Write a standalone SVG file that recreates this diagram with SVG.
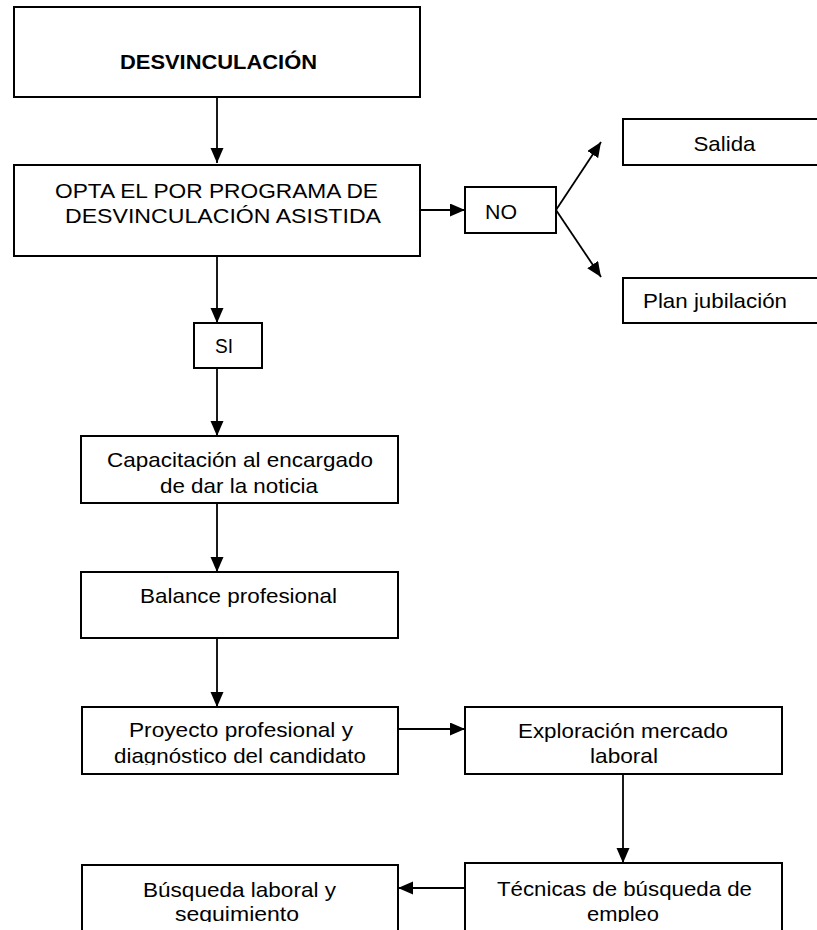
<svg xmlns="http://www.w3.org/2000/svg" width="817" height="930" viewBox="0 0 817 930">
<style>
.box{fill:#fff;stroke:#000;stroke-width:2}
.t{font-family:"Liberation Sans",Arial,sans-serif;font-size:21px;fill:#000;text-anchor:middle}
.b{font-weight:bold;font-size:20px}
.c{stroke:#000;stroke-width:1.8;fill:none;marker-end:url(#ah)}
</style>
<defs>
<marker id="ah" markerUnits="userSpaceOnUse" markerWidth="16" markerHeight="14" refX="15" refY="6.5" orient="auto">
<path d="M0,0 L15,6.5 L0,13 z" fill="#000"/>
</marker>
<clipPath id="clipTop"><rect x="0" y="0" width="817" height="765"/></clipPath>
<clipPath id="clipBot"><rect x="0" y="0" width="817" height="922"/></clipPath>
</defs>
<g id="connectors">
<line class="c" x1="217" y1="97" x2="217" y2="163"/>
<line class="c" x1="420" y1="210" x2="465" y2="210"/>
<line class="c" x1="556" y1="210" x2="601" y2="142"/>
<line class="c" x1="556" y1="210" x2="601" y2="277"/>
<line class="c" x1="217" y1="256" x2="217" y2="323"/>
<line class="c" x1="217" y1="368" x2="217" y2="436"/>
<line class="c" x1="217" y1="503" x2="217" y2="572"/>
<line class="c" x1="217" y1="638" x2="217" y2="707"/>
<line class="c" x1="398" y1="729" x2="465" y2="729"/>
<line class="c" x1="623" y1="774" x2="623" y2="863"/>
<line class="c" x1="465" y1="888" x2="398" y2="888"/>
</g>
<g id="desvinculacion">
<rect class="box" x="14" y="7" width="406" height="90"/>
<text class="t b" x="218.5" y="69" textLength="197" lengthAdjust="spacingAndGlyphs">DESVINCULACIÓN</text>
</g>
<g id="opta">
<rect class="box" x="14" y="165" width="406" height="91"/>
<text class="t" x="216.5" y="198" textLength="323" lengthAdjust="spacingAndGlyphs">OPTA EL POR PROGRAMA DE</text>
<text class="t" x="223" y="223" textLength="316" lengthAdjust="spacingAndGlyphs">DESVINCULACIÓN ASISTIDA</text>
</g>
<g id="no">
<rect class="box" x="465" y="187" width="91" height="46"/>
<text class="t" x="501" y="219" textLength="32" lengthAdjust="spacingAndGlyphs">NO</text>
</g>
<g id="salida">
<rect class="box" x="623" y="119" width="200" height="46"/>
<text class="t" x="724.5" y="151" textLength="62" lengthAdjust="spacingAndGlyphs">Salida</text>
</g>
<g id="plan">
<rect class="box" x="623" y="278" width="200" height="45"/>
<text class="t" x="715" y="308" textLength="144" lengthAdjust="spacingAndGlyphs">Plan jubilación</text>
</g>
<g id="si">
<rect class="box" x="194" y="323" width="68" height="45"/>
<text class="t" x="224" y="353" textLength="18" lengthAdjust="spacingAndGlyphs">SI</text>
</g>
<g id="capacitacion">
<rect class="box" x="81" y="436" width="317" height="67"/>
<text class="t" x="240" y="467" textLength="266" lengthAdjust="spacingAndGlyphs">Capacitación al encargado</text>
<text class="t" x="239" y="493" textLength="158" lengthAdjust="spacingAndGlyphs">de dar la noticia</text>
</g>
<g id="balance">
<rect class="box" x="81" y="572" width="317" height="66"/>
<text class="t" x="238.5" y="603" textLength="197" lengthAdjust="spacingAndGlyphs">Balance profesional</text>
</g>
<g id="proyecto">
<rect class="box" x="82" y="707" width="316" height="67"/>
<g clip-path="url(#clipTop)">
<text class="t" x="241" y="737" textLength="224" lengthAdjust="spacingAndGlyphs">Proyecto profesional y</text>
<text class="t" x="240" y="763" textLength="252" lengthAdjust="spacingAndGlyphs">diagnóstico del candidato</text>
</g>
</g>
<g id="exploracion">
<rect class="box" x="465" y="707" width="317" height="67"/>
<g clip-path="url(#clipTop)">
<text class="t" x="623" y="738" textLength="210" lengthAdjust="spacingAndGlyphs">Exploración mercado</text>
<text class="t" x="624" y="763" textLength="68" lengthAdjust="spacingAndGlyphs">laboral</text>
</g>
</g>
<g id="tecnicas">
<rect class="box" x="465" y="863" width="317" height="80"/>
<g clip-path="url(#clipBot)">
<text class="t" x="624.5" y="896" textLength="255" lengthAdjust="spacingAndGlyphs">Técnicas de búsqueda de</text>
<text class="t" x="623" y="921" textLength="72" lengthAdjust="spacingAndGlyphs">empleo</text>
</g>
</g>
<g id="busqueda">
<rect class="box" x="82" y="865" width="316" height="80"/>
<g clip-path="url(#clipBot)">
<text class="t" x="239.5" y="897" textLength="193" lengthAdjust="spacingAndGlyphs">Búsqueda laboral y</text>
<text class="t" x="237" y="921" textLength="124" lengthAdjust="spacingAndGlyphs">seguimiento</text>
</g>
</g>
</svg>
